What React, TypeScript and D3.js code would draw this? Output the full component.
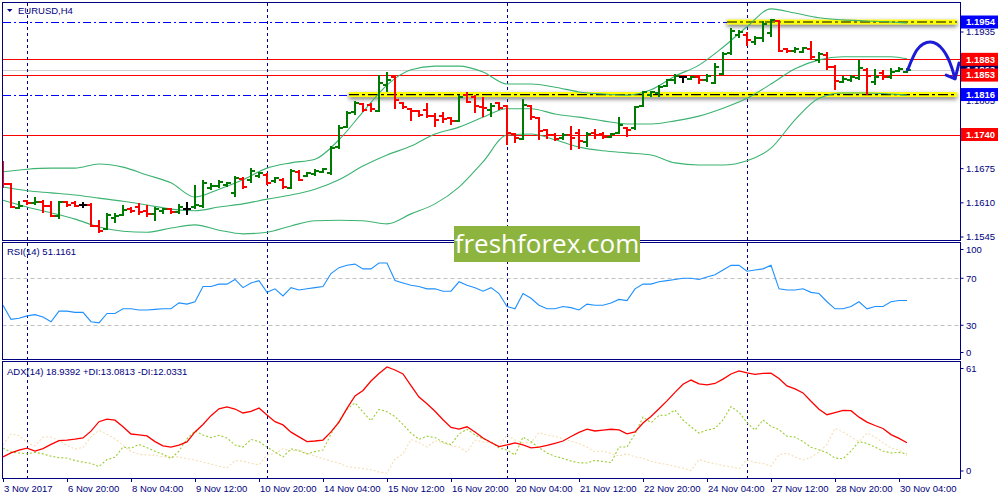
import React from 'react'
import * as d3 from 'd3'

// EURUSD H4, 3 Nov 2017 12:00 .. 30 Nov 2017 08:00 (114 bars)
const opens = [
  1.1673, 1.1646, 1.1600, 1.1613, 1.1610, 1.1612, 1.1604, 1.1585, 1.1612, 1.1610,
  1.1606, 1.1606, 1.1566, 1.1560, 1.1581, 1.1587, 1.1598, 1.1602, 1.1595, 1.1589,
  1.1595, 1.1598, 1.1593, 1.1598, 1.1602, 1.1604, 1.1638, 1.1642, 1.1644, 1.1629,
  1.1655, 1.1654, 1.1661, 1.1663, 1.1652, 1.1654, 1.1638, 1.1669, 1.1661, 1.1665,
  1.1669, 1.1667, 1.1716, 1.1754, 1.1783, 1.1798, 1.1796, 1.1785, 1.1834, 1.1849,
  1.1800, 1.1789, 1.1785, 1.1787, 1.1775, 1.1775, 1.1771, 1.1766, 1.1815, 1.1811,
  1.1792, 1.1787, 1.1800, 1.1794, 1.1741, 1.1732, 1.1794, 1.1771, 1.1749, 1.1739,
  1.1733, 1.1739, 1.1743, 1.1726, 1.1743, 1.1741, 1.1735, 1.1743, 1.1752, 1.1752,
  1.1794, 1.1815, 1.1819, 1.1832, 1.1844, 1.1849, 1.1846, 1.1849, 1.1844, 1.1838,
  1.1855, 1.1895, 1.1929, 1.1929, 1.1916, 1.1924, 1.1933, 1.1956, 1.1903, 1.1899,
  1.1897, 1.1903, 1.1882, 1.1891, 1.1868, 1.1840, 1.1844, 1.1848, 1.1863, 1.1840,
  1.1857, 1.1849, 1.1861, 1.1859,
]
const highs = [
  1.1690, 1.1648, 1.1613, 1.1615, 1.1621, 1.1615, 1.1613, 1.1613, 1.1613, 1.1613,
  1.1612, 1.1610, 1.1577, 1.1591, 1.1591, 1.1606, 1.1602, 1.1610, 1.1606, 1.1602,
  1.1600, 1.1600, 1.1608, 1.1612, 1.1644, 1.1654, 1.1648, 1.1654, 1.1650, 1.1661,
  1.1659, 1.1676, 1.1669, 1.1667, 1.1659, 1.1657, 1.1674, 1.1673, 1.1669, 1.1674,
  1.1676, 1.1718, 1.1758, 1.1785, 1.1804, 1.1800, 1.1800, 1.1853, 1.1859, 1.1853,
  1.1802, 1.1790, 1.1787, 1.1800, 1.1781, 1.1783, 1.1773, 1.1815, 1.1821, 1.1815,
  1.1811, 1.1800, 1.1802, 1.1796, 1.1743, 1.1808, 1.1796, 1.1773, 1.1751, 1.1743,
  1.1743, 1.1756, 1.1751, 1.1745, 1.1751, 1.1745, 1.1743, 1.1773, 1.1754, 1.1794,
  1.1823, 1.1823, 1.1834, 1.1846, 1.1855, 1.1851, 1.1851, 1.1851, 1.1855, 1.1876,
  1.1897, 1.1943, 1.1939, 1.1935, 1.1927, 1.1956, 1.1960, 1.1958, 1.1905, 1.1906,
  1.1906, 1.1918, 1.1897, 1.1897, 1.1872, 1.1851, 1.1853, 1.1882, 1.1867, 1.1865,
  1.1863, 1.1867, 1.1868, 1.1867,
]
const lows = [
  1.1638, 1.1600, 1.1598, 1.1606, 1.1606, 1.1591, 1.1583, 1.1579, 1.1602, 1.1602,
  1.1600, 1.1564, 1.1553, 1.1558, 1.1572, 1.1585, 1.1591, 1.1587, 1.1583, 1.1576,
  1.1589, 1.1589, 1.1589, 1.1587, 1.1598, 1.1600, 1.1635, 1.1638, 1.1640, 1.1621,
  1.1636, 1.1648, 1.1657, 1.1644, 1.1648, 1.1636, 1.1636, 1.1652, 1.1659, 1.1661,
  1.1667, 1.1663, 1.1712, 1.1752, 1.1777, 1.1783, 1.1783, 1.1783, 1.1821, 1.1789,
  1.1789, 1.1766, 1.1773, 1.1771, 1.1754, 1.1762, 1.1758, 1.1764, 1.1800, 1.1781,
  1.1773, 1.1773, 1.1787, 1.1720, 1.1724, 1.1730, 1.1768, 1.1730, 1.1732, 1.1728,
  1.1730, 1.1711, 1.1712, 1.1716, 1.1732, 1.1732, 1.1733, 1.1741, 1.1735, 1.1749,
  1.1792, 1.1811, 1.1811, 1.1830, 1.1836, 1.1838, 1.1844, 1.1836, 1.1840, 1.1836,
  1.1853, 1.1891, 1.1924, 1.1908, 1.1910, 1.1916, 1.1926, 1.1897, 1.1895, 1.1895,
  1.1895, 1.1882, 1.1876, 1.1863, 1.1825, 1.1838, 1.1840, 1.1844, 1.1815, 1.1834,
  1.1844, 1.1846, 1.1859, 1.1857,
]
const closes = [
  1.1646, 1.1602, 1.1604, 1.1610, 1.1612, 1.1604, 1.1585, 1.1612, 1.1606, 1.1604,
  1.1606, 1.1566, 1.1556, 1.1587, 1.1585, 1.1596, 1.1595, 1.1593, 1.1589, 1.1598,
  1.1598, 1.1593, 1.1602, 1.1598, 1.1606, 1.1648, 1.1642, 1.1650, 1.1648, 1.1657,
  1.1640, 1.1671, 1.1667, 1.1648, 1.1657, 1.1640, 1.1671, 1.1654, 1.1667, 1.1671,
  1.1674, 1.1714, 1.1752, 1.1781, 1.1800, 1.1787, 1.1789, 1.1838, 1.1844, 1.1806,
  1.1792, 1.1785, 1.1777, 1.1775, 1.1768, 1.1770, 1.1766, 1.1811, 1.1802, 1.1794,
  1.1790, 1.1794, 1.1790, 1.1743, 1.1733, 1.1796, 1.1773, 1.1747, 1.1739, 1.1732,
  1.1739, 1.1733, 1.1728, 1.1741, 1.1739, 1.1735, 1.1741, 1.1758, 1.1749, 1.1792,
  1.1821, 1.1821, 1.1830, 1.1844, 1.1851, 1.1849, 1.1849, 1.1844, 1.1851, 1.1868,
  1.1893, 1.1937, 1.1935, 1.1920, 1.1924, 1.1950, 1.1958, 1.1899, 1.1899, 1.1903,
  1.1905, 1.1888, 1.1893, 1.1868, 1.1842, 1.1846, 1.1849, 1.1867, 1.1851, 1.1849,
  1.1849, 1.1859, 1.1865, 1.1863,
]

// Bollinger bands every 3 bars
const bandIdx = [0, 3, 6, 9, 12, 15, 18, 21, 24, 27, 30, 33, 36, 39, 42, 45, 48, 51, 54, 57,
  60, 63, 66, 69, 72, 75, 78, 81, 84, 87, 90, 93, 96, 99, 102, 105, 108, 111, 113]
const bandUpper = [1.1669, 1.1674, 1.1676, 1.1676, 1.1684, 1.1678, 1.1663, 1.1648, 1.1621, 1.1636,
  1.1654, 1.1676, 1.1686, 1.1693, 1.1730, 1.1783, 1.1834, 1.1863, 1.1870, 1.1870,
  1.1859, 1.1836, 1.1836, 1.1830, 1.1821, 1.1817, 1.1815, 1.1825, 1.1851, 1.1872,
  1.1906, 1.1945, 1.1979, 1.1971, 1.1962, 1.1958, 1.1956, 1.1954, 1.1952]
const bandMiddle = [1.1640, 1.1633, 1.1629, 1.1625, 1.1619, 1.1613, 1.1606, 1.1598, 1.1595, 1.1602,
  1.1608, 1.1617, 1.1625, 1.1636, 1.1654, 1.1680, 1.1701, 1.1718, 1.1741, 1.1754,
  1.1773, 1.1789, 1.1789, 1.1779, 1.1773, 1.1766, 1.1760, 1.1760, 1.1766, 1.1775,
  1.1790, 1.1809, 1.1836, 1.1865, 1.1882, 1.1888, 1.1888, 1.1888, 1.1884]
const bandLower = [1.1615, 1.1602, 1.1591, 1.1579, 1.1564, 1.1556, 1.1554, 1.1562, 1.1568, 1.1558,
  1.1551, 1.1554, 1.1566, 1.1576, 1.1577, 1.1576, 1.1570, 1.1589, 1.1608, 1.1640,
  1.1688, 1.1739, 1.1741, 1.1730, 1.1716, 1.1709, 1.1705, 1.1701, 1.1686, 1.1682,
  1.1682, 1.1690, 1.1714, 1.1768, 1.1809, 1.1819, 1.1819, 1.1817, 1.1815]

const rsi = [
  47, 35, 36, 38, 39, 37, 33, 42, 42, 41,
  41, 33, 32, 40, 40, 44, 44, 43, 43, 43.5,
  44, 44, 49, 48, 50, 63, 63, 65, 65, 69,
  62, 66, 68, 58, 61, 55, 62, 60, 61, 62,
  63, 74, 79, 81, 82, 78, 78, 83, 83, 68,
  66, 64, 63, 61, 61, 59, 59, 67, 64, 62,
  59, 62, 57, 46, 44, 57, 53, 47, 44, 44,
  46, 45, 43, 48, 47, 47, 49, 52, 51, 61,
  65, 65, 67, 68, 69, 70, 70, 69, 71, 73,
  77, 81, 81, 76, 77, 78, 81, 61, 60, 60,
  61, 58, 57, 50, 44, 44, 46, 50, 44, 46,
  46, 50, 51, 51.1,
]
const adx = [
  11.4, 13.5, 15, 16, 14.5, 15.8, 18, 20, 20.3, 20.8,
  21.4, 25, 30, 31.4, 30.8, 27.3, 23.5, 23, 22.5, 19.5,
  17.2, 16.6, 17.6, 19.3, 24.6, 28.5, 33.2, 36.8, 37.8, 36.7,
  34.6, 35.5, 37.2, 33.5, 30, 28.3, 24.5, 22, 19.5, 19.8,
  20.3, 24.6, 29.8, 37, 43.6, 46.5, 51.5, 55.5, 58.9, 57.3,
  55.2, 49, 43, 39.5, 35.5, 31, 27, 26.1, 27.3, 24.6,
  21.4, 19, 16.8, 17.7, 18.8, 17.7, 16.2, 16.6, 17.5, 18.6,
  19.8, 22.2, 24.4, 26.1, 25.1, 25.6, 26, 25.7, 23.6, 24.6,
  29.3, 32.7, 36.8, 41, 45.5, 49.8, 52, 50, 49.4, 50.2,
  52.5, 55.2, 56.8, 55.8, 55, 55.5, 55.6, 52.8, 48.9, 47.3,
  45.2, 40.8, 36.6, 33.7, 34.8, 36, 35.8, 32.4, 29.8, 28,
  26.4, 23.2, 21.2, 18.9,
]
const plusDi = [
  16, 14, 13.5, 13, 13.8, 13, 11.8, 11, 10.8, 9.5,
  8.6, 8, 6.3, 10, 11.2, 16.6, 16, 18, 16.3, 14.4,
  12.8, 10.5, 14.5, 21, 25.1, 23, 21.6, 22.8, 21.4, 17.7,
  16.6, 20.6, 19.5, 16.6, 14, 11.4, 15.7, 14.6, 13, 14.2,
  15, 23.5, 30.5, 36.5, 40, 35.1, 30.5, 36.5, 35.3, 32.7,
  28.5, 24, 20.7, 22.3, 21.6, 19.2, 17.9, 23.5, 26, 23,
  20.9, 19.4, 16.2, 15, 12.4, 21.9, 19.5, 16.3, 13.5, 11.8,
  10.6, 9.2, 8.3, 8.2, 9.6, 9, 8.4, 16.6, 16.6, 23.5,
  32.5, 29.5, 33.3, 33.5, 36.2, 30.9, 27.3, 24, 25.6, 26.5,
  30.9, 38, 35, 29.5, 25.6, 30.9, 27.5, 25.8, 22.3, 21.9,
  19.5, 16.5, 15.2, 13.6, 10.8, 10.4, 14.5, 19.5, 18.5, 16.6,
  14.5, 13.5, 13.8, 13.1,
]
const minusDi = [
  17.7, 23.5, 22.7, 19, 17.2, 21.9, 21.9, 20, 17.5, 15.5,
  16.5, 22, 25.4, 23.3, 21, 17.5, 14.2, 12.8, 12.4, 12.3,
  11.4, 11.4, 11.4, 10.5, 9.6, 8.7, 7.6, 6.5, 5.6, 9.5,
  9.2, 8, 7.2, 12.4, 13.3, 15.8, 14.5, 15.2, 13.3, 11.8,
  10.5, 9.2, 8.1, 6.3, 5.7, 5.3, 4.6, 3.4, 2.9, 10.3,
  13, 20.6, 19, 16.6, 20, 18.8, 17.3, 16.7, 14, 20.3,
  19.3, 18.9, 17, 23, 20.3, 18.8, 18.8, 24.2, 23, 22.2,
  21, 19.7, 18.5, 16.6, 14, 14.5, 13.2, 11.9, 13, 11.4,
  10.8, 9.1, 8.1, 7.4, 6.4, 5.5, 4.2, 10, 8.7, 7.8,
  6.8, 6.2, 5.1, 9.8, 8.5, 7.9, 6.6, 12.6, 13.4, 11.4,
  9.8, 11.2, 14, 18, 26.5, 24.6, 22, 19.5, 24, 21.9,
  18.8, 16.2, 15, 12,
]

const timeLabels = ['3 Nov 2017', '6 Nov 20:00', '8 Nov 04:00', '9 Nov 12:00', '10 Nov 20:00',
  '14 Nov 04:00', '15 Nov 12:00', '16 Nov 20:00', '20 Nov 04:00', '21 Nov 12:00',
  '22 Nov 20:00', '24 Nov 04:00', '27 Nov 12:00', '28 Nov 20:00', '30 Nov 04:00']
const timeLabelIdx = [0, 8, 16, 24, 32, 40, 48, 56, 64, 72, 80, 88, 96, 104, 112]
const weekStartIdx = [3, 33, 63, 93]

const priceTicks = [1.1935, 1.1805, 1.1675, 1.1610, 1.1545]
const redLevels = [1.1883, 1.1853, 1.1740]
const zoneLevels = [1.1954, 1.1816]
const zoneStartIdx = [90.5, 43.25]
const zoneEndIdx = 119.25
const bidPrice = 1.1863
const rsiLevels = [70, 30]
const rsiTicks = [100, 70, 30, 0]
const adxTicks = [61, 0]
const arrowCurve: [number, number][] = [[113.1, 1.1863], [113.6, 1.1882], [114.25, 1.1901], [115, 1.1912],
  [115.9, 1.1916], [116.75, 1.1912], [117.5, 1.1901], [118.1, 1.1886], [118.6, 1.1867], [119, 1.1846]]
const arrowHead: [number, number][] = [[117.9, 1.1853], [119, 1.1846], [119.5, 1.1876]]

const NAVY = '#000080'
const FONT = 'Liberation Sans, Arial, sans-serif'
const L = 2.5, R = 960.5

const x = d3.scaleLinear().domain([0, 113]).range([3, 907])
const yP = d3.scaleLinear().domain([1.1545, 1.1935]).range([237, 32])
const yR = d3.scaleLinear().domain([0, 100]).range([360.5, 243])
const yA = d3.scaleLinear().domain([0, 61]).range([478.5, 363])

const panes = [
  { top: 2.5, bottom: 240 },
  { top: 242.5, bottom: 359.5 },
  { top: 361.5, bottom: 478 },
]

const App = () => {
  const bandLine = (vals: number[]) =>
    d3.line<number>().x((_, i) => x(bandIdx[i])).y(d => yP(d)).curve(d3.curveMonotoneX)(vals) || ''
  const idxLine = (scale: d3.ScaleLinear<number, number>) =>
    d3.line<number>().x((_, i) => x(i)).y(d => scale(d))
  const arrowLine = d3.line<[number, number]>().x(d => x(d[0])).y(d => yP(d[1]))

  const clampLabel = (y: number, p: { top: number; bottom: number }) =>
    Math.min(Math.max(y, p.top + 7), p.bottom - 7)

  const tagLabel = (v: number, fill: string, key: string) => (
    <g key={key}>
      <rect x={961} y={yP(v) - 6.5} width={37} height={13} fill={fill} />
      <text x={966} y={yP(v)} dy="0.35em" fill="#fff" fontSize={9.5} fontFamily={FONT} fontWeight="bold">
        {v.toFixed(4)}
      </text>
    </g>
  )

  return (
    <svg width={1000} height={500} style={{ position: 'fixed', left: 0, top: 0, background: '#fff' }}>
      <defs>
        <clipPath id="pricePane"><rect x={L} y={2.5} width={R - L} height={237.5} /></clipPath>
        <clipPath id="rsiPane"><rect x={L} y={242.5} width={R - L} height={117} /></clipPath>
        <clipPath id="adxPane"><rect x={L} y={361.5} width={R - L} height={116.5} /></clipPath>
        <filter id="shadow" x="-5%" y="-200%" width="110%" height="500%">
          <feDropShadow dx={0} dy={2} stdDeviation={2} floodColor="#404040" floodOpacity={0.75} />
        </filter>
      </defs>
      <rect width={1000} height={500} fill="#fff" />

      {/* price pane */}
      <g clipPath="url(#pricePane)">
        {zoneLevels.map((v, k) => (
          <line key={'bl' + k} x1={x(0)} x2={x(zoneStartIdx[k])} y1={Math.round(yP(v)) + 0.5} y2={Math.round(yP(v)) + 0.5}
            stroke="#0000ff" strokeDasharray="8,3,2,3" />
        ))}
        {redLevels.map((v, k) => (
          <line key={'rl' + k} x1={L} x2={R} y1={Math.round(yP(v)) + 0.5} y2={Math.round(yP(v)) + 0.5} stroke="#ff0000" />
        ))}
        <line x1={L} x2={R} y1={Math.round(yP(bidPrice)) + 0.5} y2={Math.round(yP(bidPrice)) + 0.5} stroke="#d0d0d0" />
        {weekStartIdx.map(i => (
          <line key={'ws' + i} x1={x(i) + 0.5} x2={x(i) + 0.5} y1={3} y2={240} stroke={NAVY} strokeDasharray="3,3" />
        ))}
        {zoneLevels.map((v, k) => (
          <g key={'z' + k}>
            <rect x={x(zoneStartIdx[k])} y={yP(v) - 2.5} width={x(zoneEndIdx) - x(zoneStartIdx[k])} height={5}
              fill="#ffff00" filter="url(#shadow)" />
            <line x1={x(zoneStartIdx[k])} x2={x(zoneEndIdx)} y1={yP(v)} y2={yP(v)} stroke="#000"
              strokeWidth={1.2} strokeDasharray="10,3,3,3" />
          </g>
        ))}
        {[bandUpper, bandMiddle, bandLower].map((b, k) => (
          <path key={'bb' + k} d={bandLine(b)} fill="none" stroke="#3cb371" strokeWidth={1.1} />
        ))}
        {opens.map((o, i) => {
          const c = closes[i]
          const col = c > o ? '#007a00' : c < o ? '#ff0000' : '#000'
          const xi = Math.round(x(i))
          const yh = Math.round(yP(highs[i]))
          const yl = Math.round(yP(lows[i]))
          return (
            <g key={'bar' + i} fill={col} shapeRendering="crispEdges">
              <rect x={xi - 1} y={yh} width={2} height={Math.max(yl - yh, 2)} />
              <rect x={xi - 4} y={Math.round(yP(o)) - 1} width={3} height={2} />
              <rect x={xi + 1} y={Math.round(yP(c)) - 1} width={3} height={2} />
            </g>
          )
        })}
        <path d={arrowLine.curve(d3.curveCatmullRom)(arrowCurve) || ''} fill="none" stroke="#1c1cd6"
          strokeWidth={3} strokeLinecap="round" />
        <path d={d3.line<[number, number]>().x(d => x(d[0])).y(d => yP(d[1]))(arrowHead) || ''} fill="none"
          stroke="#1c1cd6" strokeWidth={3} strokeLinecap="round" strokeLinejoin="round" />
      </g>

      {/* RSI pane */}
      <g clipPath="url(#rsiPane)">
        {rsiLevels.map(v => (
          <line key={'rv' + v} x1={L} x2={R} y1={Math.round(yR(v)) + 0.5} y2={Math.round(yR(v)) + 0.5}
            stroke="#c0c0c0" strokeDasharray="4,3" />
        ))}
        {weekStartIdx.map(i => (
          <line key={'ws2' + i} x1={x(i) + 0.5} x2={x(i) + 0.5} y1={243} y2={360} stroke={NAVY} strokeDasharray="3,3" />
        ))}
        <path d={idxLine(yR)(rsi) || ''} fill="none" stroke="#1e90ff" strokeWidth={1.1} />
      </g>

      {/* ADX pane */}
      <g clipPath="url(#adxPane)">
        {weekStartIdx.map(i => (
          <line key={'ws3' + i} x1={x(i) + 0.5} x2={x(i) + 0.5} y1={362} y2={478} stroke={NAVY} strokeDasharray="3,3" />
        ))}
        <path d={idxLine(yA)(minusDi) || ''} fill="none" stroke="#f5deb3" strokeWidth={1.1} strokeDasharray="2,2" />
        <path d={idxLine(yA)(plusDi) || ''} fill="none" stroke="#9acd32" strokeWidth={1.1} strokeDasharray="2,2" />
        <path d={idxLine(yA)(adx) || ''} fill="none" stroke="#ff0000" strokeWidth={1.3} />
      </g>

      {/* frames */}
      {panes.map((p, k) => (
        <rect key={'f' + k} x={L} y={p.top} width={R - L} height={p.bottom - p.top} fill="none" stroke={NAVY}
          shapeRendering="crispEdges" />
      ))}

      {/* right axis, price */}
      {priceTicks.map(v => (
        <g key={'pt' + v}>
          <line x1={R} x2={R + 3} y1={yP(v)} y2={yP(v)} stroke={NAVY} />
          <text x={966} y={yP(v)} dy="0.35em" fill={NAVY} fontSize={9.5} fontFamily={FONT}>{v.toFixed(4)}</text>
        </g>
      ))}
      {tagLabel(bidPrice, '#000060', 'bid')}
      {redLevels.map((v, k) => tagLabel(v, '#ff0000', 'rt' + k))}
      {zoneLevels.map((v, k) => tagLabel(v, '#0000ff', 'zt' + k))}

      {/* right axis, RSI and ADX */}
      {rsiTicks.map(v => (
        <g key={'rt' + v}>
          <line x1={R} x2={R + 3} y1={clampLabel(yR(v), panes[1])} y2={clampLabel(yR(v), panes[1])} stroke={NAVY} />
          <text x={966} y={clampLabel(yR(v), panes[1])} dy="0.35em" fill={NAVY} fontSize={9.5} fontFamily={FONT}>{v}</text>
        </g>
      ))}
      {adxTicks.map(v => (
        <g key={'at' + v}>
          <line x1={R} x2={R + 3} y1={clampLabel(yA(v), panes[2])} y2={clampLabel(yA(v), panes[2])} stroke={NAVY} />
          <text x={966} y={clampLabel(yA(v), panes[2])} dy="0.35em" fill={NAVY} fontSize={9.5} fontFamily={FONT}>{v}</text>
        </g>
      ))}

      {/* time axis */}
      {timeLabelIdx.map((i, k) => (
        <g key={'tl' + k}>
          <line x1={x(i) + 0.5} x2={x(i) + 0.5} y1={478} y2={482} stroke={NAVY} />
          <text x={x(i) + 1} y={491.5} fill={NAVY} fontSize={9.5} fontFamily={FONT}>{timeLabels[k]}</text>
        </g>
      ))}

      {/* titles */}
      <path d="M7,9 L12.5,9 L9.75,12 Z" fill={NAVY} />
      <text x={18} y={14} fill={NAVY} fontSize={9.5} fontFamily={FONT}>EURUSD,H4</text>
      <text x={7} y={255} fill={NAVY} fontSize={9.5} fontFamily={FONT}>RSI(14) 51.1161</text>
      <text x={7} y={375} fill={NAVY} fontSize={9.5} fontFamily={FONT}>
        ADX(14) 18.9392 +DI:13.0813 -DI:12.0331
      </text>

      {/* watermark */}
      <rect x={454} y={226} width={186} height={36} fill="#8db43e" />
      <text x={547} y={253} textAnchor="middle" fill="#fff" fontSize={26} fontFamily="Open Sans, sans-serif">
        freshforex.com
      </text>
    </svg>
  )
}

export default App
